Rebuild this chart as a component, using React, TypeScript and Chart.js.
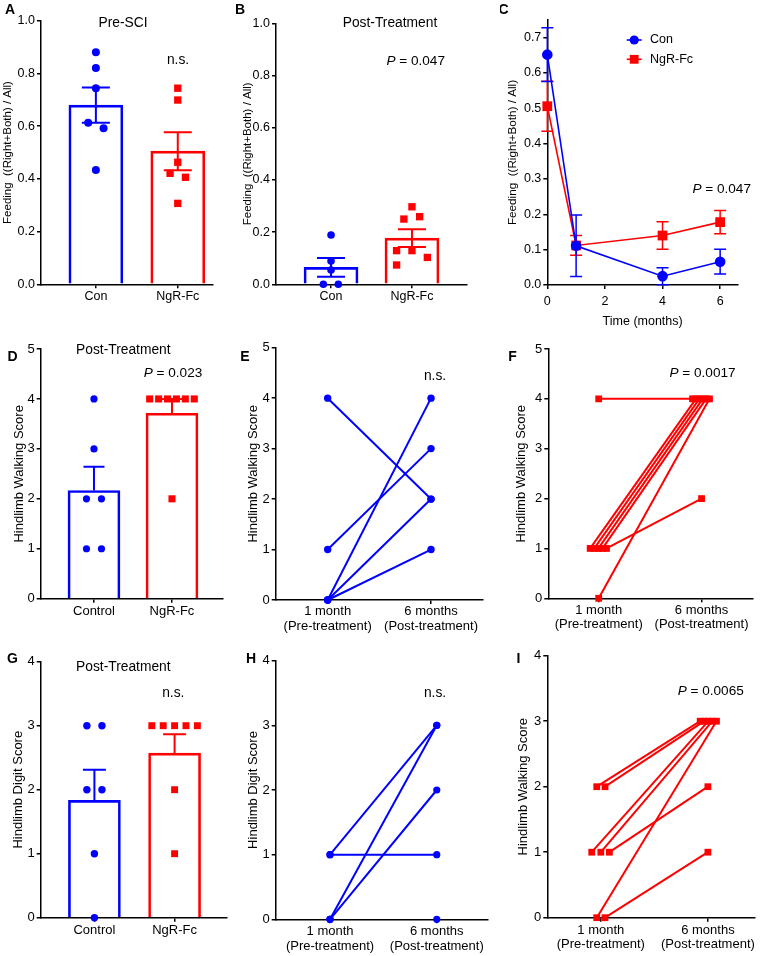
import React, { useEffect, useRef } from "react";
import { Chart, registerables } from "chart.js";

Chart.register(...registerables);

const FONT = "'Liberation Sans', Arial, Helvetica, sans-serif";
const BLUE = "#0000ff";
const RED = "#ff0000";
Chart.defaults.font.family = FONT;
Chart.defaults.color = "#000";

// ---------------- Panel A : Pre-SCI ----------------
const aCategories = ["Con", "NgR-Fc"];
const aMeans = [0.68, 0.505];
const aSems = [0.067, 0.072];
const aConValues = [0.88, 0.821, 0.744, 0.613, 0.592, 0.434];
const aConJitter = [0, 0, 0, -0.094, 0.094, 0];
const aNgrValues = [0.744, 0.699, 0.463, 0.421, 0.406, 0.307];
const aNgrJitter = [0, 0, 0, -0.094, 0.094, 0];
const feedTicks = [0, 0.2, 0.4, 0.6, 0.8, 1.0];

// ---------------- Panel B : Post-Treatment feeding ----------------
const bCategories = ["Con", "NgR-Fc"];
const bMeans = [0.065, 0.177];
const bSems = [0.036, 0.034];
const bConValues = [0.189, 0.089, 0.055, 0, 0];
const bConJitter = [0, 0, 0, -0.095, 0.09];
const bNgrValues = [0.297, 0.259, 0.25, 0.129, 0.129, 0.103, 0.074];
const bNgrJitter = [0, 0.095, -0.1, -0.19, 0, 0.19, -0.19];

// ---------------- Panel C : time course ----------------
const cTime = [0, 1, 4, 6];
const cConMean = [0.652, 0.111, 0.025, 0.066];
const cConSem = [0.076, 0.087, 0.024, 0.035];
const cNgrMean = [0.506, 0.112, 0.14, 0.178];
const cNgrSem = [0.071, 0.028, 0.039, 0.033];
const cXTicks = [0, 2, 4, 6];
const cYTicks = [0, 0.1, 0.2, 0.3, 0.4, 0.5, 0.6, 0.7];

// ---------------- Panel D : walking score post-treatment ----------------
const dCategories = ["Control", "NgR-Fc"];
const dMeans = [2.167, 3.714];
const dSems = [0.477, 0.286];
const dConValues = [4, 3, 2, 2, 1, 1];
const dConJitter = [0, 0, -0.096, 0.096, -0.096, 0.096];
const dNgrValues = [4, 4, 4, 4, 4, 4, 2];
const dNgrJitter = [-0.286, -0.171, -0.057, 0.057, 0.171, 0.286, 0];
const walkTicks = [0, 1, 2, 3, 4, 5];

// ---------------- Panel E : control walking, paired ----------------
const pairLabels = [
  ["1 month", "(Pre-treatment)"],
  ["6 months", "(Post-treatment)"],
];
const ePre = [4, 1, 0, 0, 0];
const ePost = [2, 3, 4, 2, 1];

// ---------------- Panel F : NgR-Fc walking, paired ----------------
const fPre = [4, 1, 1, 1, 1, 1, 0];
const fPreJitter = [0, -0.083, -0.043, -0.003, 0.037, 0.076, 0];
const fPost = [4, 4, 4, 4, 4, 2, 4];
const fPostJitter = [-0.088, -0.055, -0.022, 0.011, 0.044, 0, 0.077];

// ---------------- Panel G : digit score post-treatment ----------------
const gCategories = ["Control", "NgR-Fc"];
const gMeans = [1.833, 2.571];
const gSems = [0.477, 0.297];
const gConValues = [3, 3, 2, 2, 1, 0];
const gConJitter = [-0.094, 0.094, -0.094, 0.094, 0, 0];
const gNgrValues = [3, 3, 3, 3, 3, 2, 1];
const gNgrJitter = [-0.284, -0.142, 0, 0.142, 0.284, 0, 0];
const digitTicks = [0, 1, 2, 3, 4];

// ---------------- Panel H : control digit, paired ----------------
const hPre = [1, 1, 0, 0, 0];
const hPost = [3, 1, 3, 2, 0];

// ---------------- Panel I : NgR-Fc, paired ----------------
const iPre = [2, 2, 1, 1, 1, 0, 0];
const iPreJitter = [-0.038, 0.039, -0.085, 0, 0.08, -0.038, 0.039];
const iPost = [3, 3, 3, 3, 2, 3, 1];
const iPostJitter = [-0.072, -0.034, 0.004, 0.042, 0, 0.08, 0];

// =====================================================================
type TextItem = { t: string; x: number; y: number; size: number; bold?: boolean; italicP?: boolean; align?: CanvasTextAlign };
type ErrBar = { x: number; y: number; plus: number; minus: number; color: string; cap: number; lw: number };
type LegendItem = { label: string; color: string; style: "circle" | "rect"; y: number };

interface Spec {
  left: number; top: number; width: number; height: number;
  plotL: number; plotT: number; plotR: number; plotB: number;
  kind: "bar" | "line";
  xMin: number; xMax: number; xTicks: number[]; xLabels?: (string | string[])[];
  xTickPad: number; xTickSize: number; xLineHeight: number;
  xTitle?: string; xTitleSize?: number; xTitlePad?: number;
  yMin: number; yMax: number; yTicks: number[]; yDecimals: number; yTickSize: number;
  yTitle: string; yTitleSize: number; yTitlePad: number;
  datasets: any[];
  errorBars: ErrBar[]; errStage: "afterBar" | "before";
  texts: TextItem[];
  legend?: { x0: number; x1: number; textX: number; size: number; items: LegendItem[] };
}

function barPanel(means: number[], conV: number[], conJ: number[], ngrV: number[], ngrJ: number[], thick: number, dotR: number, sqR: number) {
  return [
    {
      type: "bar",
      data: means.map((m, i) => ({ x: i + 1, y: m })),
      backgroundColor: "rgba(255,255,255,0)",
      borderColor: [BLUE, RED],
      borderWidth: 2,
      barThickness: thick,
      order: 3,
      clip: false,
    },
    {
      type: "scatter",
      data: conV.map((v, i) => ({ x: 1 + conJ[i], y: v })),
      pointStyle: "circle",
      pointRadius: dotR,
      backgroundColor: BLUE,
      pointBackgroundColor: BLUE,
      borderWidth: 0,
      pointBorderWidth: 0,
      order: 2,
      clip: false,
    },
    {
      type: "scatter",
      data: ngrV.map((v, i) => ({ x: 2 + ngrJ[i], y: v })),
      pointStyle: "rect",
      pointRadius: sqR,
      backgroundColor: RED,
      pointBackgroundColor: RED,
      borderWidth: 0,
      pointBorderWidth: 0,
      order: 1,
      clip: false,
    },
  ];
}

function barErrors(means: number[], sems: number[], lowerToo: boolean, cap: number): ErrBar[] {
  return means.map((m, i) => ({ x: i + 1, y: m, plus: sems[i], minus: lowerToo ? sems[i] : 0, color: i === 0 ? BLUE : RED, cap, lw: 2 }));
}

function pairPanel(pre: number[], preJ: number[], post: number[], postJ: number[], color: string, style: string, r: number) {
  return pre.map((v, i) => ({
    type: "line",
    data: [
      { x: 1 + preJ[i], y: v },
      { x: 2 + postJ[i], y: post[i] },
    ],
    borderColor: color,
    borderWidth: 2,
    pointStyle: style,
    pointRadius: r,
    pointBackgroundColor: color,
    pointBorderWidth: 0,
    tension: 0,
    clip: false,
    segment: {
      borderColor: (ctx: any) => (ctx.p0.parsed.y === 0 && ctx.p1.parsed.y === 0 ? "rgba(0,0,0,0)" : undefined),
    },
  }));
}

const zeros = (a: number[]) => a.map(() => 0);

const specs: Spec[] = [
  {
    left: 0, top: 0, width: 240, height: 335,
    plotL: 41, plotT: 20.7, plotR: 213, plotB: 284.3,
    kind: "bar",
    xMin: 0.33, xMax: 2.43, xTicks: [1, 2], xLabels: aCategories, xTickPad: 1, xTickSize: 12.5, xLineHeight: 1.2,
    yMin: 0, yMax: 1, yTicks: feedTicks, yDecimals: 1, yTickSize: 12.5,
    yTitle: "Feeding  ((Right+Both) / All)", yTitleSize: 11.5, yTitlePad: 1.1,
    datasets: barPanel(aMeans, aConValues, aConJitter, aNgrValues, aNgrJitter, 54, 4, 5.2),
    errorBars: barErrors(aMeans, aSems, true, 14), errStage: "afterBar",
    texts: [
      { t: "A", x: 10, y: 10, size: 14, bold: true },
      { t: "Pre-SCI", x: 123, y: 23, size: 13.8 },
      { t: "n.s.", x: 178, y: 60, size: 13.8 },
    ],
  },
  {
    left: 236, top: 0, width: 270, height: 335,
    plotL: 276, plotT: 23.3, plotR: 467, plotB: 284.3,
    kind: "bar",
    xMin: 0.32, xMax: 2.68, xTicks: [1, 2], xLabels: bCategories, xTickPad: 1, xTickSize: 12.5, xLineHeight: 1.2,
    yMin: 0, yMax: 1, yTicks: feedTicks, yDecimals: 1, yTickSize: 12.5,
    yTitle: "Feeding  ((Right+Both) / All)", yTitleSize: 11.5, yTitlePad: 5.1,
    datasets: barPanel(bMeans, bConValues, bConJitter, bNgrValues, bNgrJitter, 54, 3.8, 5.2),
    errorBars: barErrors(bMeans, bSems, true, 14), errStage: "afterBar",
    texts: [
      { t: "B", x: 240, y: 10, size: 14, bold: true },
      { t: "Post-Treatment", x: 390, y: 22.7, size: 13.8 },
      { t: "P = 0.047", x: 415.7, y: 61.7, size: 13.6, italicP: true },
    ],
  },
  {
    left: 500, top: 0, width: 264, height: 335,
    plotL: 547.3, plotT: 20, plotR: 738, plotB: 285,
    kind: "line",
    xMin: 0, xMax: 6.62, xTicks: cXTicks, xTickPad: 5, xTickSize: 12.5, xLineHeight: 1.2,
    xTitle: "Time (months)", xTitleSize: 12.5, xTitlePad: 5.8,
    yMin: 0, yMax: 0.75, yTicks: cYTicks, yDecimals: 1, yTickSize: 12.5,
    yTitle: "Feeding  ((Right+Both) / All)", yTitleSize: 11.7, yTitlePad: 5.6,
    datasets: [
      {
        type: "line",
        data: cTime.map((t, i) => ({ x: t, y: cConMean[i] })),
        borderColor: BLUE, borderWidth: 1.6,
        pointStyle: "circle", pointRadius: 5.3, pointBackgroundColor: BLUE, pointBorderWidth: 0,
        tension: 0, clip: false, order: 1,
      },
      {
        type: "line",
        data: cTime.map((t, i) => ({ x: t, y: cNgrMean[i] })),
        borderColor: RED, borderWidth: 1.6,
        pointStyle: "rect", pointRadius: 6.9, pointBackgroundColor: RED, pointBorderWidth: 0,
        tension: 0, clip: false, order: 2,
      },
    ],
    errorBars: [
      ...cTime.map((t, i) => ({ x: t, y: cNgrMean[i], plus: cNgrSem[i], minus: cNgrSem[i], color: RED, cap: 6, lw: 1.5 })),
      ...cTime.map((t, i) => ({ x: t, y: cConMean[i], plus: cConSem[i], minus: cConSem[i], color: BLUE, cap: 6, lw: 1.5 })),
    ],
    errStage: "before",
    texts: [
      { t: "C", x: 503.5, y: 10, size: 14, bold: true },
      { t: "P = 0.047", x: 721.7, y: 189.3, size: 13.6, italicP: true },
    ],
    legend: {
      x0: 626.7, x1: 641.7, textX: 650, size: 12.5,
      items: [
        { label: "Con", color: BLUE, style: "circle", y: 40 },
        { label: "NgR-Fc", color: RED, style: "rect", y: 59.3 },
      ],
    },
  },
  {
    left: 0, top: 335, width: 240, height: 305,
    plotL: 40.7, plotT: 349, plotR: 223, plotB: 598.7,
    kind: "bar",
    xMin: 0.317, xMax: 2.654, xTicks: [1, 2], xLabels: dCategories, xTickPad: 1.2, xTickSize: 13, xLineHeight: 1.2,
    yMin: 0, yMax: 5, yTicks: walkTicks, yDecimals: 0, yTickSize: 13,
    yTitle: "Hindlimb Walking Score", yTitleSize: 13, yTitlePad: 11.4,
    datasets: barPanel(dMeans, dConValues, dConJitter, dNgrValues, dNgrJitter, 52, 3.6, 5),
    errorBars: barErrors(dMeans, dSems, false, 10.5), errStage: "afterBar",
    texts: [
      { t: "D", x: 12.5, y: 357.5, size: 14, bold: true },
      { t: "Post-Treatment", x: 123.3, y: 350, size: 13.8 },
      { t: "P = 0.023", x: 173, y: 373.3, size: 13.6, italicP: true },
    ],
  },
  {
    left: 240, top: 335, width: 262, height: 305,
    plotL: 275.7, plotT: 347.7, plotR: 483, plotB: 600,
    kind: "line",
    xMin: 0.497, xMax: 2.503, xTicks: [1, 2], xLabels: pairLabels, xTickPad: 0.6, xTickSize: 13, xLineHeight: 1.1,
    yMin: 0, yMax: 5, yTicks: walkTicks, yDecimals: 0, yTickSize: 13,
    yTitle: "Hindlimb Walking Score", yTitleSize: 13, yTitlePad: 5.2,
    datasets: pairPanel(ePre, zeros(ePre), ePost, zeros(ePost), BLUE, "circle", 3.7),
    errorBars: [], errStage: "before",
    texts: [
      { t: "E", x: 245, y: 357.5, size: 14, bold: true },
      { t: "n.s.", x: 435, y: 375.7, size: 13.8 },
    ],
  },
  {
    left: 502, top: 335, width: 262, height: 305,
    plotL: 548.3, plotT: 349, plotR: 753, plotB: 598.3,
    kind: "line",
    xMin: 0.51, xMax: 2.5, xTicks: [1, 2], xLabels: pairLabels, xTickPad: 0.6, xTickSize: 13, xLineHeight: 1.1,
    yMin: 0, yMax: 5, yTicks: walkTicks, yDecimals: 0, yTickSize: 13,
    yTitle: "Hindlimb Walking Score", yTitleSize: 13, yTitlePad: 11.9,
    datasets: pairPanel(fPre, fPreJitter, fPost, fPostJitter, RED, "rect", 4.8),
    errorBars: [], errStage: "before",
    texts: [
      { t: "F", x: 512.5, y: 357.5, size: 14, bold: true },
      { t: "P = 0.0017", x: 702.5, y: 373.3, size: 13.6, italicP: true },
    ],
  },
  {
    left: 0, top: 640, width: 240, height: 316,
    plotL: 40.7, plotT: 661.7, plotR: 226.7, plotB: 917.7,
    kind: "bar",
    xMin: 0.33, xMax: 2.65, xTicks: [1, 2], xLabels: gCategories, xTickPad: 0.5, xTickSize: 13, xLineHeight: 1.2,
    yMin: 0, yMax: 4, yTicks: digitTicks, yDecimals: 0, yTickSize: 13,
    yTitle: "Hindlimb Digit Score", yTitleSize: 13, yTitlePad: 10.9,
    datasets: barPanel(gMeans, gConValues, gConJitter, gNgrValues, gNgrJitter, 52, 3.7, 4.9),
    errorBars: barErrors(gMeans, gSems, false, 11.5), errStage: "afterBar",
    texts: [
      { t: "G", x: 12.5, y: 659, size: 14, bold: true },
      { t: "Post-Treatment", x: 123.3, y: 666.7, size: 13.8 },
      { t: "n.s.", x: 173.3, y: 693, size: 13.8 },
    ],
  },
  {
    left: 240, top: 640, width: 262, height: 316,
    plotL: 275.7, plotT: 660.7, plotR: 488, plotB: 919.3,
    kind: "line",
    xMin: 0.491, xMax: 2.48, xTicks: [1, 2], xLabels: pairLabels, xTickPad: 1.25, xTickSize: 13, xLineHeight: 1.1,
    yMin: 0, yMax: 4, yTicks: digitTicks, yDecimals: 0, yTickSize: 13,
    yTitle: "Hindlimb Digit Score", yTitleSize: 13, yTitlePad: 5.2,
    datasets: pairPanel(hPre, zeros(hPre), hPost, zeros(hPost), BLUE, "circle", 3.6),
    errorBars: [], errStage: "before",
    texts: [
      { t: "H", x: 251, y: 659, size: 14, bold: true },
      { t: "n.s.", x: 435, y: 693.3, size: 13.8 },
    ],
  },
  {
    left: 502, top: 640, width: 262, height: 316,
    plotL: 547.3, plotT: 655.7, plotR: 755, plotB: 917.7,
    kind: "line",
    xMin: 0.5, xMax: 2.44, xTicks: [1, 2], xLabels: pairLabels, xTickPad: 1.15, xTickSize: 13, xLineHeight: 1.1,
    yMin: 0, yMax: 4, yTicks: digitTicks, yDecimals: 0, yTickSize: 13,
    yTitle: "Hindlimb Walking Score", yTitleSize: 13, yTitlePad: 13.5,
    datasets: pairPanel(iPre, iPreJitter, iPost, iPostJitter, RED, "rect", 4.8),
    errorBars: [], errStage: "before",
    texts: [
      { t: "I", x: 518.5, y: 659, size: 14, bold: true },
      { t: "P = 0.0065", x: 710.7, y: 691.7, size: 13.6, italicP: true },
    ],
  },
];

const fontStr = (size: number, bold = false, italic = false) =>
  `${italic ? "italic " : ""}${bold ? "bold " : ""}${size}px ${FONT}`;

function makePlugin(spec: Spec) {
  const drawErr = (chart: any) => {
    const { ctx } = chart;
    const xs = chart.scales.x;
    const ys = chart.scales.y;
    ctx.save();
    for (const e of spec.errorBars) {
      const px = xs.getPixelForValue(e.x);
      const top = ys.getPixelForValue(e.y + e.plus);
      const bot = ys.getPixelForValue(e.y - e.minus);
      ctx.strokeStyle = e.color;
      ctx.lineWidth = e.lw;
      ctx.beginPath();
      ctx.moveTo(px, bot);
      ctx.lineTo(px, top);
      ctx.moveTo(px - e.cap, top);
      ctx.lineTo(px + e.cap, top);
      if (e.minus > 0) {
        ctx.moveTo(px - e.cap, bot);
        ctx.lineTo(px + e.cap, bot);
      }
      ctx.stroke();
    }
    ctx.restore();
  };
  return {
    id: "decor",
    beforeDatasetsDraw(chart: any) {
      if (spec.errStage === "before") drawErr(chart);
    },
    afterDatasetDraw(chart: any, args: any) {
      if (spec.errStage === "afterBar" && args.index === 0) drawErr(chart);
    },
    afterDraw(chart: any) {
      const { ctx } = chart;
      ctx.save();
      ctx.fillStyle = "#000";
      ctx.textBaseline = "middle";
      for (const t of spec.texts) {
        const x = t.x - spec.left;
        const y = t.y - spec.top;
        if (t.italicP) {
          const rest = t.t.slice(1);
          ctx.font = fontStr(t.size, false, true);
          const w1 = ctx.measureText("P").width;
          ctx.font = fontStr(t.size);
          const w2 = ctx.measureText(rest).width;
          const sx = x - (w1 + w2) / 2;
          ctx.textAlign = "left";
          ctx.font = fontStr(t.size, false, true);
          ctx.fillText("P", sx, y);
          ctx.font = fontStr(t.size);
          ctx.fillText(rest, sx + w1, y);
        } else {
          ctx.textAlign = t.align ?? "center";
          ctx.font = fontStr(t.size, !!t.bold);
          ctx.fillText(t.t, x, y);
        }
      }
      if (spec.legend) {
        const L = spec.legend;
        for (const it of L.items) {
          const y = it.y - spec.top;
          const x0 = L.x0 - spec.left;
          const x1 = L.x1 - spec.left;
          const cx = (x0 + x1) / 2;
          ctx.strokeStyle = it.color;
          ctx.lineWidth = 1.6;
          ctx.beginPath();
          ctx.moveTo(x0, y);
          ctx.lineTo(x1, y);
          ctx.stroke();
          ctx.fillStyle = it.color;
          ctx.beginPath();
          if (it.style === "circle") ctx.arc(cx, y, 4.6, 0, Math.PI * 2);
          else ctx.rect(cx - 4.4, y - 4.4, 8.8, 8.8);
          ctx.fill();
          ctx.fillStyle = "#000";
          ctx.textAlign = "left";
          ctx.font = fontStr(L.size);
          ctx.fillText(it.label, L.textX - spec.left, y);
        }
      }
      ctx.restore();
    },
  };
}

function buildConfig(spec: Spec): any {
  const axisLine = {
    border: { display: true, color: "#000", width: 1.5 },
    grid: { display: true, drawOnChartArea: false, drawTicks: true, tickLength: 4, color: "#000", lineWidth: 1.5, offset: false },
  };
  return {
    type: spec.kind,
    data: { datasets: spec.datasets },
    plugins: [makePlugin(spec)],
    options: {
      animation: false,
      responsive: false,
      maintainAspectRatio: false,
      devicePixelRatio: 1,
      events: [],
      layout: {
        padding: {
          left: 0,
          top: spec.plotT - spec.top,
          right: spec.left + spec.width - spec.plotR,
          bottom: 0,
        },
      },
      plugins: { legend: { display: false }, tooltip: { enabled: false }, title: { display: false } },
      scales: {
        x: {
          type: "linear",
          min: spec.xMin,
          max: spec.xMax,
          offset: false,
          ...axisLine,
          afterBuildTicks: (s: any) => {
            s.ticks = spec.xTicks.map((v) => ({ value: v }));
          },
          afterFit: (s: any) => {
            s.height = spec.top + spec.height - spec.plotB;
          },
          ticks: {
            autoSkip: false,
            maxRotation: 0,
            minRotation: 0,
            padding: spec.xTickPad,
            color: "#000",
            font: { size: spec.xTickSize, family: FONT, lineHeight: spec.xLineHeight },
            callback: (v: number, i: number) => (spec.xLabels ? spec.xLabels[i] : String(v)),
          },
          title: spec.xTitle
            ? {
                display: true,
                text: spec.xTitle,
                color: "#000",
                font: { size: spec.xTitleSize, family: FONT, lineHeight: 1.2 },
                padding: { top: 0, bottom: spec.xTitlePad },
              }
            : { display: false },
        },
        y: {
          type: "linear",
          min: spec.yMin,
          max: spec.yMax,
          ...axisLine,
          afterBuildTicks: (s: any) => {
            s.ticks = spec.yTicks.map((v) => ({ value: v }));
          },
          afterFit: (s: any) => {
            s.width = spec.plotL - spec.left;
          },
          ticks: {
            autoSkip: false,
            padding: 2,
            color: "#000",
            font: { size: spec.yTickSize, family: FONT },
            callback: (v: number) => Number(v).toFixed(spec.yDecimals),
          },
          title: {
            display: true,
            text: spec.yTitle,
            color: "#000",
            font: { size: spec.yTitleSize, family: FONT, lineHeight: 1.2 },
            padding: { top: spec.yTitlePad, bottom: 0 },
          },
        },
      },
    },
  };
}

function Panel({ spec }: { spec: Spec }) {
  const ref = useRef<HTMLCanvasElement>(null);
  useEffect(() => {
    if (!ref.current) return;
    const chart = new Chart(ref.current, buildConfig(spec));
    return () => chart.destroy();
  }, [spec]);
  return (
    <canvas
      ref={ref}
      width={spec.width}
      height={spec.height}
      style={{ position: "absolute", left: spec.left, top: spec.top, width: spec.width, height: spec.height }}
    />
  );
}

export default function App() {
  return (
    <div style={{ position: "absolute", left: 0, top: 0, width: 764, height: 956, background: "#fff", overflow: "hidden" }}>
      {specs.map((s, i) => (
        <Panel key={i} spec={s} />
      ))}
    </div>
  );
}
